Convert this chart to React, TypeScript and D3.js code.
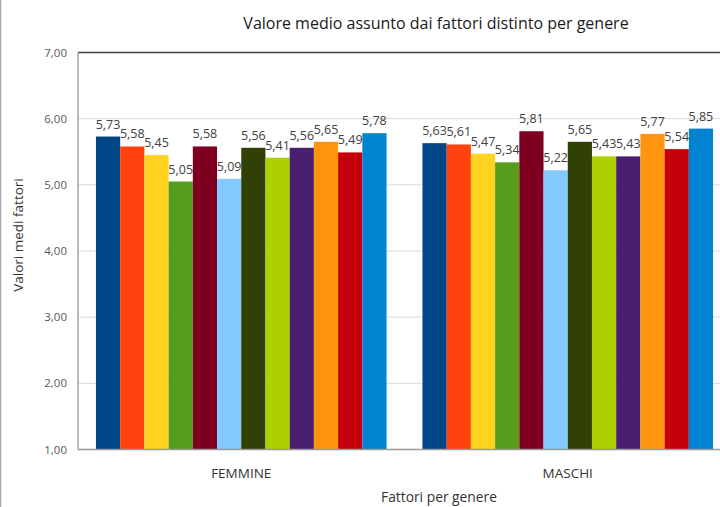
import React from "react";
import * as d3 from "d3";

const categories = ["FEMMINE", "MASCHI"];
const seriesNames = [
  "Fattore 1", "Fattore 2", "Fattore 3", "Fattore 4", "Fattore 5", "Fattore 6",
  "Fattore 7", "Fattore 8", "Fattore 9", "Fattore 10", "Fattore 11", "Fattore 12",
];
const femmine = [5.73, 5.58, 5.45, 5.05, 5.58, 5.09, 5.56, 5.41, 5.56, 5.65, 5.49, 5.78];
const maschi = [5.63, 5.61, 5.47, 5.34, 5.81, 5.22, 5.65, 5.43, 5.43, 5.77, 5.54, 5.85];
const yTicks = [1, 2, 3, 4, 5, 6, 7];
const colors = [
  "#004586", "#ff420e", "#ffd320", "#579d1c", "#7e0021", "#83caff",
  "#314004", "#aecf00", "#4b1f6f", "#ff950e", "#c5000b", "#0084d1",
];
const title = "Valore medio assunto dai fattori distinto per genere";
const yTitle = "Valori medi fattori";
const xTitle = "Fattori per genere";

const values: Record<string, number[]> = { FEMMINE: femmine, MASCHI: maschi };

const W = 720;
const H = 507;
const left = 78;
const right = 731;
const top = 52.5;
const bottom = 449.5;
const FONT = "'Open Sans', 'Noto Sans', sans-serif";
const fmt = (v: number) => v.toFixed(2).replace(".", ",");

export default function App() {
  const x0 = d3.scaleBand<string>().domain(categories).range([left, right]).paddingInner(0.11).paddingOuter(0.055);
  const x1 = d3.scaleBand<string>().domain(seriesNames).range([0, x0.bandwidth()]).padding(0);
  const y = d3.scaleLinear().domain([1, 7]).range([bottom, top]);

  return (
    <svg width={W} height={H} style={{ position: "fixed", left: 0, top: 0, background: "#fff" }} fontFamily={FONT}>
      <rect x={0} y={0} width={W} height={H} fill="#fff" />
      <line x1={0.5} x2={0.5} y1={0} y2={H} stroke="#a6a6a6" strokeWidth={1.5} />
      <text x={436} y={29} textAnchor="middle" fontSize={16} fill="#1a1a1a">{title}</text>
      {yTicks.map((t) => (
        <g key={t}>
          {t > 1 && t < 7 && (
            <line x1={left} x2={W} y1={y(t)} y2={y(t)} stroke="#d9d9d9" strokeWidth={1} />
          )}
          <text x={67} y={y(t)} dy="0.35em" textAnchor="end" fontSize={11.5} fill="#595959">{fmt(t)}</text>
        </g>
      ))}
      {categories.map((c) => (
        <g key={c} transform={`translate(${x0(c)},0)`}>
          {values[c].map((v, i) => (
            <rect key={i} x={x1(seriesNames[i])} y={y(v)} width={x1.bandwidth()} height={y(1) - y(v)} fill={colors[i]} />
          ))}
          {values[c].map((v, i) => (
            <text key={"l" + i} x={(x1(seriesNames[i]) as number) + x1.bandwidth() / 2} y={y(v) - 8} textAnchor="middle" fontSize={12.5} fill="#404040">{fmt(v)}</text>
          ))}
          <text x={x0.bandwidth() / 2} y={478} textAnchor="middle" fontSize={13.5} fill="#333">{c}</text>
        </g>
      ))}
      <line x1={left} x2={W} y1={top} y2={top} stroke="#404040" strokeWidth={1.5} />
      <line x1={left} x2={left} y1={top} y2={bottom} stroke="#a6a6a6" strokeWidth={1.5} />
      <line x1={left} x2={W} y1={bottom} y2={bottom} stroke="#999" strokeWidth={1.5} />
      <text x={439} y={502} textAnchor="middle" fontSize={13.8} fill="#333">{xTitle}</text>
      <text transform={`translate(23,235) rotate(-90)`} textAnchor="middle" fontSize={13.5} fill="#333">{yTitle}</text>
    </svg>
  );
}
